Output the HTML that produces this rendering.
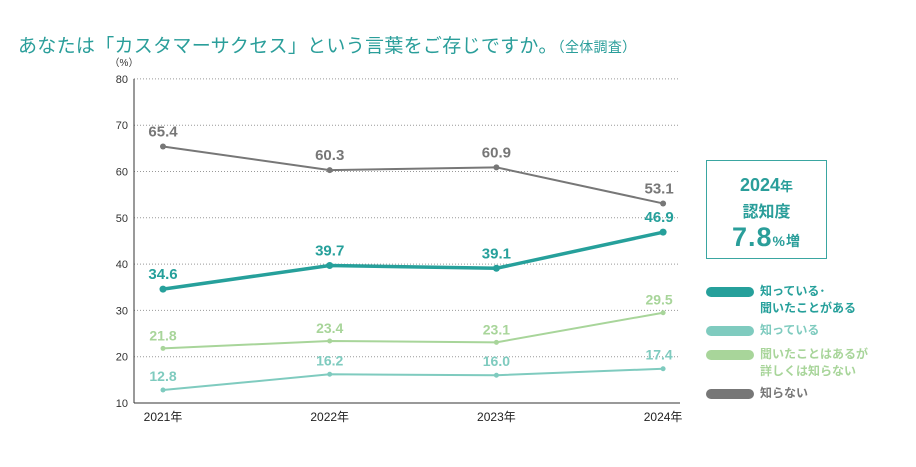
<!DOCTYPE html>
<html><head><meta charset="utf-8"><style>
body{margin:0;background:#fff;font-family:"Liberation Sans","Noto Sans CJK JP",sans-serif;}
#wrap{position:relative;width:916px;height:467px;overflow:hidden}
.title{position:absolute;left:18px;top:31px;font-size:19px;color:#2a9e9a;letter-spacing:0.3px;white-space:nowrap}
.title small{font-size:14px}
.box{position:absolute;left:706px;top:160px;width:121px;height:99px;border:1.5px solid #3aa6a1;box-sizing:border-box;text-align:center;color:#2a9e9a;font-weight:bold}
.leg{position:absolute;left:706px;font-size:12px;font-weight:bold;line-height:17px}
.sw{position:absolute;left:0;top:4px;width:48px;height:10px;border-radius:5px}
.leg span{position:absolute;left:54px;top:0;white-space:nowrap}
</style></head><body>
<div id="wrap">
<div class="title">あなたは「カスタマーサクセス」という言葉をご存じですか。<small>（全体調査）</small></div>
<svg id="chart" width="916" height="467" style="position:absolute;left:0;top:0"></svg>
<div class="box">
<div style="margin-top:14px;font-size:18px">2024<span style="font-size:13px">年</span></div>
<div style="font-size:16px;margin-top:2px">認知度</div>
<div style="font-size:27px;margin-top:0px;letter-spacing:1px">7.8<span style="font-size:14px">%増</span></div>
</div>
<div class="leg" style="top:283px;color:#26a09b"><div class="sw" style="background:#26a09b"></div><span>知っている･<br>聞いたことがある</span></div>
<div class="leg" style="top:322px;color:#7fcbbf"><div class="sw" style="background:#7fcbbf"></div><span>知っている</span></div>
<div class="leg" style="top:346px;color:#a8d59a"><div class="sw" style="background:#a8d59a"></div><span>聞いたことはあるが<br>詳しくは知らない</span></div>
<div class="leg" style="top:385px;color:#777"><div class="sw" style="background:#777"></div><span>知らない</span></div>
</div>
<script>
const years=["2021年","2022年","2023年","2024年"];
const yTicks=[10,20,30,40,50,60,70,80];
const awareTotal=[34.6,39.7,39.1,46.9];
const know=[12.8,16.2,16.0,17.4];
const heard=[21.8,23.4,23.1,29.5];
const unknown=[65.4,60.3,60.9,53.1];
const svg=document.getElementById('chart');
const NS='http://www.w3.org/2000/svg';
const x0=163,xStep=166.7,yBase=403,yPer=4.63;
const X=i=>x0+i*xStep;
const Y=v=>yBase-(v-10)*yPer;
function mk(t,a){const e=document.createElementNS(NS,t);for(const k in a)e.setAttribute(k,a[k]);svg.appendChild(e);return e;}
yTicks.forEach(t=>{
 if(t>10){const g=mk('line',{x1:134,x2:680,y1:Y(t),y2:Y(t),stroke:'#999','stroke-width':1,'stroke-dasharray':'1,2'});
 
 }
 const l=mk('text',{x:128,y:Y(t)+4,'text-anchor':'end','font-size':11,fill:'#333'});l.textContent=t;
 
 
});
const u=mk('text',{x:124,y:66,'text-anchor':'middle','font-size':10,fill:'#333'});u.textContent='（%）';


const ax=mk('line',{x1:134,x2:134,y1:Y(80),y2:Y(10),stroke:'#333','stroke-width':1});


const bx=mk('line',{x1:134,x2:680,y1:Y(10),y2:Y(10),stroke:'#333','stroke-width':1});


years.forEach((y,i)=>{const t=mk('text',{x:X(i),y:421,'text-anchor':'middle','font-size':12,fill:'#222'});t.textContent=y;
 
 });
function series(vals,color,w,r,name,fs,dy){
 const p=mk('polyline',{points:vals.map((v,i)=>X(i)+','+Y(v)).join(' '),fill:'none',stroke:color,'stroke-width':w});
 
 
 vals.forEach((v,i)=>{const c=mk('circle',{cx:X(i),cy:Y(v),r:r,fill:color});
  
  
  const t=mk('text',{x:X(i)+(i==3?-4:0),y:Y(v)+dy,'text-anchor':'middle','font-size':fs,'font-weight':'bold',fill:color});
  t.textContent=v.toFixed(1);
  
  });
}
series(unknown,'#777',2,3,'unknown',15,-10);
series(heard,'#a8d59a',2,2.5,'heard',14,-8);
series(know,'#7fcbbf',2,2.5,'know',14,-9);
series(awareTotal,'#26a09b',3.5,3.5,'aware-total',15,-10);
</script>
</body></html>
